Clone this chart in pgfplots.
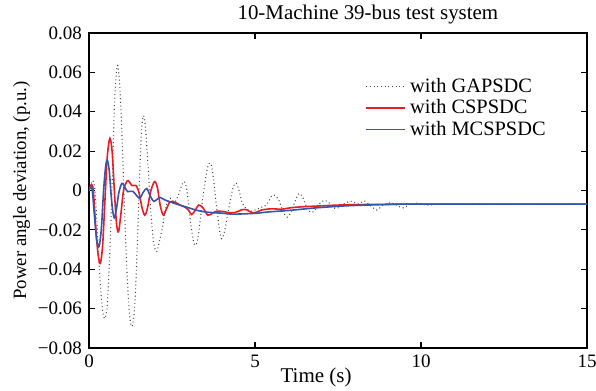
\documentclass[border=0pt]{standalone}
\usepackage{pgfplots}
\pgfplotsset{compat=1.18}
\usepackage{fontspec}
\setmainfont{Liberation Serif}
\definecolor{cred}{RGB}{236,28,36}
\definecolor{cblue}{RGB}{55,85,170}
\definecolor{cdot}{RGB}{70,70,70}
\begin{document}
\begin{tikzpicture}[font=\fontsize{9.5}{11}\selectfont]
\begin{axis}[
  name=ax,
  scale only axis,
  width=249pt, height=157.5pt,
  xmin=0, xmax=15, ymin=-0.08, ymax=0.08,
  xtick={0,5,10,15},
  ytick={-0.08,-0.06,-0.04,-0.02,0,0.02,0.04,0.06,0.08},
  yticklabels={−0.08,−0.06,−0.04,−0.02,0,0.02,0.04,0.06,0.08},
  scaled y ticks=false,
  /pgf/number format/assume math mode=true,
  tick align=inside,
  major tick length=3pt,
  axis line style={line width=0.8pt},
  every tick/.style={black, line width=0.6pt},
  xlabel={Time (s)},
  ylabel={Power angle deviation, (p.u.)},
  xlabel style={at={(0.456,0)}, anchor=base, yshift=-17pt, font=\fontsize{10.5}{12}\selectfont},
  ylabel style={yshift=-3pt, font=\fontsize{9.4}{11}\selectfont},
  title={10-Machine 39-bus test system},
  title style={at={(0.56,1)}, anchor=south, yshift=-5pt, font=\fontsize{10.45}{12}\selectfont},
  legend style={draw=none, fill=none, at={(0.542,0.884)}, anchor=north west, row sep=-1.8pt, font=\fontsize{10.2}{11}\selectfont},
  legend cell align=left,
  legend image code/.code={\draw[#1] (0cm,0cm) -- (0.69cm,0cm);},
]
\addplot[cdot, line width=0.55pt, dash pattern=on 0.45pt off 1.4pt, smooth, tension=0.5] coordinates {
(0,0) (0.06,0.003) (0.12,0.005) (0.18,0.0) (0.25,-0.02) (0.33,-0.045) (0.41,-0.061) (0.48,-0.065) (0.55,-0.058) (0.63,-0.03) (0.7,0.005) (0.77,0.045) (0.85,0.0635) (0.92,0.055) (0.99,0.03) (1.06,-0.005) (1.14,-0.04) (1.22,-0.063) (1.3,-0.069) (1.38,-0.058) (1.45,-0.03) (1.52,0.005) (1.58,0.03) (1.64,0.038) (1.7,0.032) (1.78,0.012) (1.86,-0.010) (1.95,-0.027) (2.04,-0.031) (2.13,-0.025) (2.22,-0.018) (2.32,-0.008) (2.45,-0.004) (2.58,-0.006) (2.7,-0.002) (2.8,0.003) (2.87,0.0045) (2.95,0.0) (3.05,-0.015) (3.15,-0.026) (3.22,-0.0277) (3.3,-0.022) (3.42,-0.005) (3.55,0.010) (3.64,0.014) (3.72,0.010) (3.82,-0.005) (3.93,-0.020) (4.0,-0.0245) (4.08,-0.021) (4.2,-0.010) (4.33,0.001) (4.43,0.0038) (4.52,0.0) (4.62,-0.0065) (4.75,-0.0095) (4.9,-0.0105) (5.05,-0.0095) (5.2,-0.0085) (5.35,-0.0072) (5.5,-0.0028) (5.6,-0.0025) (5.72,-0.005) (5.85,-0.011) (5.97,-0.0135) (6.08,-0.011) (6.2,-0.0057) (6.33,-0.0015) (6.45,-0.004) (6.57,-0.009) (6.69,-0.0112) (6.8,-0.010) (6.95,-0.0066) (7.1,-0.005) (7.25,-0.0065) (7.4,-0.009) (7.55,-0.0085) (7.7,-0.0065) (7.9,-0.0055) (8.1,-0.0068) (8.3,-0.0054) (8.5,-0.008) (8.67,-0.0099) (8.85,-0.0075) (9.1,-0.0062) (9.3,-0.0078) (9.47,-0.0088) (9.65,-0.0072) (9.9,-0.0064) (10.2,-0.0074) (10.5,-0.0070) (11,-0.0068) (11.5,-0.0071) (12,-0.0069) (13,-0.0070) (14,-0.0069) (15,-0.0069)
};
\addlegendentry{with GAPSDC}
\addplot[cred, line width=0.8pt, smooth, tension=0.5] coordinates {
(0,0) (0.04,0.002) (0.08,0.003) (0.13,0.0) (0.2,-0.018) (0.27,-0.032) (0.34,-0.037) (0.41,-0.028) (0.48,-0.005) (0.55,0.017) (0.63,0.0265) (0.7,0.019) (0.77,-0.002) (0.83,-0.017) (0.89,-0.021) (0.96,-0.012) (1.04,0.0) (1.12,0.004) (1.18,0.005) (1.3,0.0025) (1.42,0.0025) (1.52,-0.002) (1.6,-0.009) (1.68,-0.0125) (1.76,-0.009) (1.85,-0.001) (1.97,0.0045) (2.06,0.0015) (2.15,-0.008) (2.24,-0.0125) (2.33,-0.0095) (2.44,-0.0057) (2.6,-0.006) (2.75,-0.0075) (2.9,-0.0085) (3.0,-0.010) (3.09,-0.0122) (3.2,-0.010) (3.3,-0.0074) (3.42,-0.0085) (3.58,-0.0125) (3.72,-0.0115) (3.85,-0.0105) (4.05,-0.0107) (4.2,-0.0112) (4.4,-0.0112) (4.6,-0.0098) (4.75,-0.0098) (4.9,-0.0112) (5.05,-0.011) (5.2,-0.0099) (5.5,-0.0093) (5.8,-0.0095) (6.1,-0.0087) (6.5,-0.0082) (7.0,-0.0078) (7.5,-0.0074) (8.0,-0.0072) (9.0,-0.0070) (10,-0.0069) (15,-0.0069)
};
\addlegendentry{with CSPSDC}
\addplot[cblue, line width=0.8pt, smooth, tension=0.5] coordinates {
(0,0) (0.05,0.002) (0.1,0.0) (0.16,-0.012) (0.23,-0.025) (0.3,-0.0285) (0.37,-0.02) (0.44,0.0) (0.5,0.012) (0.55,0.0155) (0.61,0.01) (0.67,-0.003) (0.72,-0.011) (0.77,-0.014) (0.83,-0.009) (0.9,-0.001) (0.97,0.003) (1.02,0.0036) (1.1,0.001) (1.17,-0.0006) (1.25,-0.0004) (1.33,-0.0005) (1.43,-0.0025) (1.53,-0.004) (1.63,-0.001) (1.74,0.001) (1.85,-0.003) (1.95,-0.0055) (2.05,-0.0045) (2.14,-0.0035) (2.25,-0.0045) (2.44,-0.0058) (2.74,-0.0074) (3.04,-0.009) (3.24,-0.0100) (3.55,-0.011) (4.0,-0.0115) (4.35,-0.012) (5.0,-0.0116) (5.4,-0.0109) (6.1,-0.0100) (6.85,-0.0088) (7.85,-0.0077) (9.0,-0.0071) (10,-0.0069) (15,-0.0069)
};
\addlegendentry{with MCSPSDC}
\end{axis}
\pgfresetboundingbox
\path ([shift={(-44.5pt,-21pt)}]ax.south west) rectangle ([shift={(4.5pt,16.5pt)}]ax.north east);
\end{tikzpicture}
\end{document}
